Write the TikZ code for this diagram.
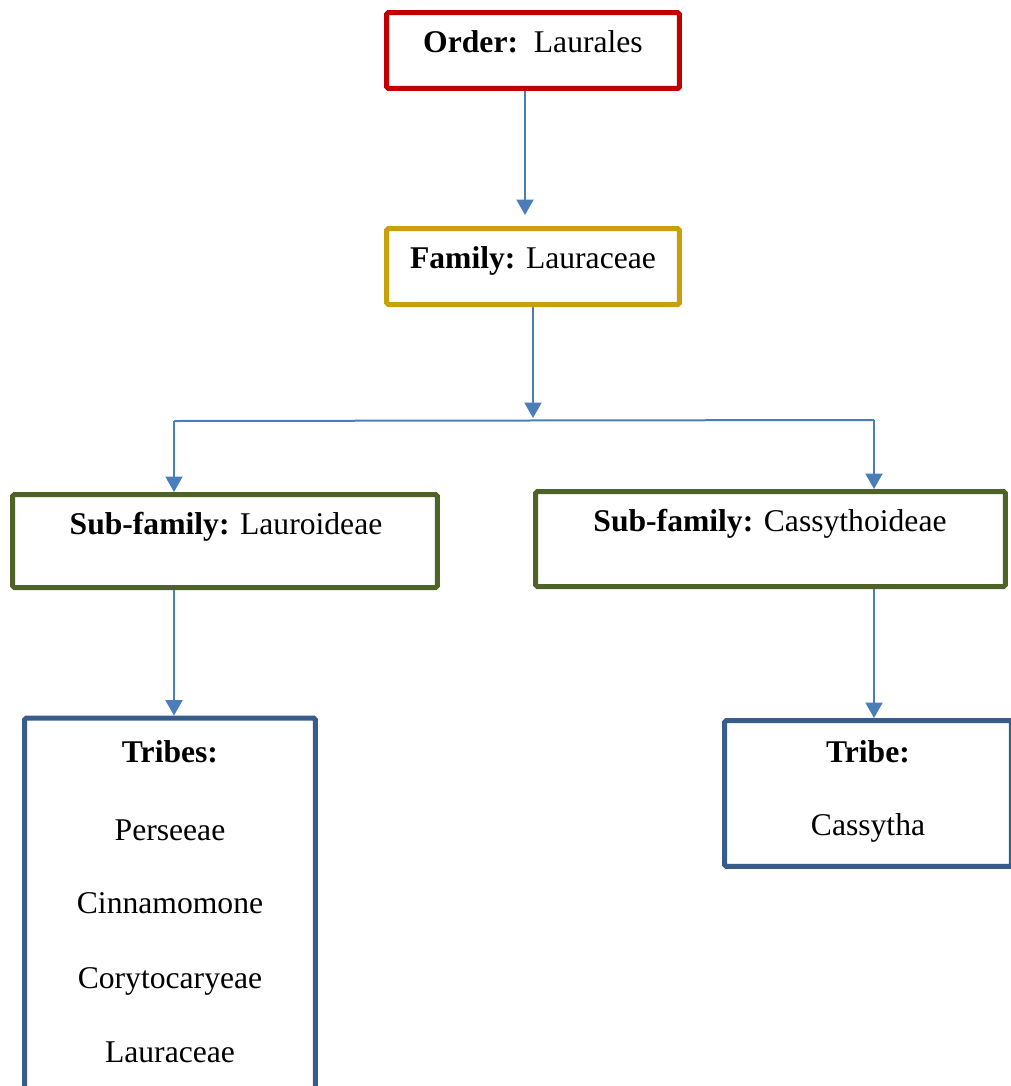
\documentclass[tikz,border=0pt]{standalone}
\usepackage{fontspec}
\setmainfont{Liberation Serif}
\usetikzlibrary{arrows.meta}
\definecolor{ordred}{HTML}{C00000}
\definecolor{famgold}{HTML}{C9A00B}
\definecolor{subgreen}{HTML}{4F6228}
\definecolor{tribeblue}{HTML}{385D8A}
\definecolor{linkblue}{HTML}{4A7EBB}

\begin{document}
\begin{tikzpicture}[x=0.02cm, y=-0.02cm,
  box/.style={draw, line width=0.1cm, rounded corners=1pt, inner sep=0},
  txt/.style={font=\fontsize{18}{22}\selectfont, inner sep=0, anchor=base},
  conn/.style={->, draw=linkblue, line width=0.04cm},
  >={Triangle[width=0.34cm, length=0.31cm]}
]
\clip (0,0) rectangle (1011,1086);

% rank boxes
\node[box, draw=ordred, minimum width=5.86cm, minimum height=1.52cm] (order) at (533,50.5) {};
\node[box, draw=famgold, minimum width=5.86cm, minimum height=1.52cm] (family) at (533,266.5) {};
\node[box, draw=subgreen, minimum width=8.5cm, minimum height=1.86cm] (lsub) at (225,541) {};
\node[box, draw=subgreen, minimum width=9.4cm, minimum height=1.9cm] (rsub) at (770.5,539) {};
\node[box, draw=tribeblue, minimum width=5.82cm, minimum height=7.84cm] (tribesbox) at (170,914) {};
\node[box, draw=tribeblue, minimum width=5.74cm, minimum height=2.92cm] (tribebox) at (868,793.5) {};

% labels
\node[txt] (ordertxt) at (533,52) {\textbf{Order:}\ \ Laurales};
\node[txt] (familytxt) at (533,268) {\textbf{Family:} Lauraceae};
\node[txt] (lsubtxt) at (226,534) {\textbf{Sub-family:} Lauroideae};
\node[txt] (rsubtxt) at (770,531) {\textbf{Sub-family:} Cassythoideae};
\node[txt] (tribestxt) at (170,762) {\textbf{Tribes:}};
\foreach \t/\y [count=\i] in {Perseeae/840, Cinnamomone/913, Corytocaryeae/988, Lauraceae/1062}{
  \node[txt] (tribe\i) at (170,\y) {\t};
}
\node[txt] (tribetxt) at (868,762) {\textbf{Tribe:}};
\node[txt] (cassytha) at (868,835) {Cassytha};

% connectors
\coordinate (junc) at (533,418);
\coordinate (jl) at (174,421);
\coordinate (jr) at (874,420);
\draw[conn, shorten >=0.22cm] ([xshift=-0.16cm]order.south) -- ([xshift=-0.16cm]family.north);
\draw[conn] (family.south) -- (junc);
\draw[linkblue, line width=0.04cm] (jl) -- (jr);
\draw[conn] (jl) -- (lsub.north -| jl);
\draw[conn] (jr) -- (rsub.north -| jr);
\draw[conn] (lsub.south -| jl) -- (tribesbox.north -| jl);
\draw[conn] (rsub.south -| jr) -- (tribebox.north -| jr);
\end{tikzpicture}
\end{document}
